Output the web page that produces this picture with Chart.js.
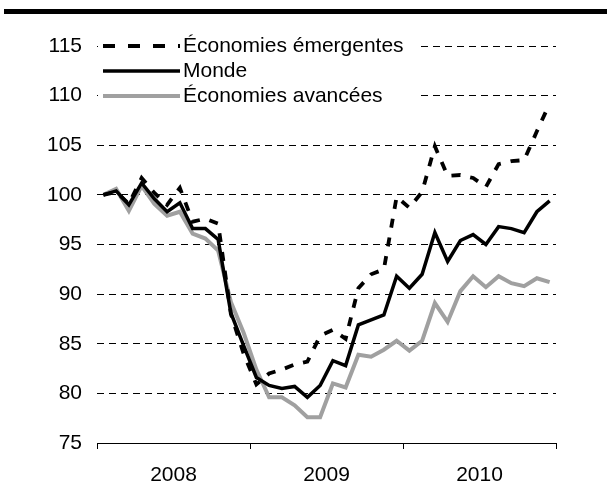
<!DOCTYPE html>
<html><head><meta charset="utf-8">
<script src="https://cdn.jsdelivr.net/npm/chart.js@4.4.0/dist/chart.umd.min.js"></script>
<style>
html,body{margin:0;padding:0;background:#fff;}
#wrap{position:relative;width:607px;height:501px;}
#topbar{position:absolute;left:4px;top:9px;width:603px;height:5px;background:#000;}
canvas{position:absolute;left:0;top:0;}
</style></head><body>
<div id="wrap"><canvas id="c" width="607" height="501"></canvas><div id="topbar"></div></div>
<script>
const years = ['2008', '2009', '2010'];
const monthNames = ['janv.', 'févr.', 'mars', 'avr.', 'mai', 'juin', 'juil.', 'août', 'sept.', 'oct.', 'nov.', 'déc.'];
const months = [];
years.forEach(y => monthNames.forEach(m => months.push(m + ' ' + y)));

const seriesNames = ['Économies émergentes', 'Monde', 'Économies avancées'];
const emergentes = [100, 100.3, 99.1, 101.7, 100.2, 99.0, 100.7, 97.3, 97.6, 97.1, 88.0, 84.0,
                    80.9, 82.0, 82.4, 82.9, 83.2, 85.8, 86.4, 85.5, 90.6, 92.0, 92.5, 99.8,
                    98.7, 100.3, 104.9, 101.9, 102.0, 101.7, 100.8, 103.1, 103.4, 103.5, 106.4, 109.2];
const monde = [100, 100.4, 99.0, 101.2, 99.6, 98.3, 99.2, 96.6, 96.6, 95.5, 88.1, 84.8,
               81.6, 80.8, 80.5, 80.7, 79.6, 80.8, 83.3, 82.8, 86.9, 87.4, 87.9, 91.8,
               90.6, 92.0, 96.2, 93.3, 95.4, 96.0, 95.0, 96.8, 96.6, 96.2, 98.3, 99.4];
const avancees = [100, 100.6, 98.4, 100.9, 99.1, 97.9, 98.3, 96.1, 95.6, 94.4, 89.2, 86.1,
                  82.4, 79.6, 79.6, 78.8, 77.6, 77.6, 81.0, 80.6, 83.9, 83.7, 84.4, 85.3,
                  84.3, 85.3, 89.1, 87.2, 90.3, 91.8, 90.7, 91.8, 91.1, 90.8, 91.6, 91.2];
const yTicks = [75, 80, 85, 90, 95, 100, 105, 110, 115];

const FONT = '"Liberation Sans", Arial, sans-serif';
const toXY = arr => arr.map((v, i) => ({x: i, y: v}));
const perYear = monthNames.length;
const boundaries = years.map((y, k) => k * perYear - 0.5).concat([years.length * perYear - 0.5]);
const centers = years.map((y, k) => k * perYear + (perYear - 1) / 2);
const isBoundary = v => boundaries.some(b => Math.abs(b - v) < 1e-6);

const legendPlugin = {
  id: 'legendBox',
  beforeDatasetsDraw(chart) {
    const ctx = chart.ctx, ca = chart.chartArea;
    ctx.save();
    ctx.fillStyle = '#fff';
    ctx.fillRect(ca.left + 1, 30, 320, 78);
    chart.data.datasets.forEach((ds, i) => {
      const y = 46 + i * 25;
      ctx.beginPath();
      ctx.setLineDash(i === 0 ? [12, 13] : []);
      ctx.lineWidth = ds.borderWidth;
      ctx.strokeStyle = ds.borderColor;
      ctx.lineCap = 'butt';
      ctx.moveTo(ca.left + 6, y);
      ctx.lineTo(ca.left + 83, y);
      ctx.stroke();
      ctx.setLineDash([]);
      ctx.fillStyle = '#000';
      ctx.font = '21px ' + FONT;
      ctx.textBaseline = 'middle';
      ctx.textAlign = 'left';
      ctx.fillText(ds.label, ca.left + 86, y);
    });
    ctx.restore();
  }
};

new Chart(document.getElementById('c'), {
  type: 'line',
  data: {
    labels: months,
    datasets: [
      {label: seriesNames[0], data: toXY(emergentes), borderColor: '#000', borderWidth: 3.8, borderDash: [9, 10], pointRadius: 0, tension: 0, fill: false},
      {label: seriesNames[1], data: toXY(monde), borderColor: '#000', borderWidth: 3.5, pointRadius: 0, tension: 0, fill: false},
      {label: seriesNames[2], data: toXY(avancees), borderColor: '#a0a0a0', borderWidth: 4, pointRadius: 0, tension: 0, fill: false}
    ]
  },
  options: {
    responsive: false,
    animation: false,
    layout: {padding: {left: 0, right: 51, top: 46, bottom: 0}},
    plugins: {legend: {display: false}, tooltip: {enabled: false}},
    scales: {
      x: {
        type: 'linear',
        min: boundaries[0],
        max: boundaries[boundaries.length - 1],
        afterBuildTicks: s => { s.ticks = boundaries.concat(centers).sort((a, b) => a - b).map(v => ({value: v})); },
        afterFit: s => { s.height = 58; },
        ticks: {
          autoSkip: false, maxRotation: 0, padding: 14, color: '#000',
          font: {family: FONT, size: 21},
          callback: v => { const k = centers.findIndex(c => Math.abs(c - v) < 1e-6); return k >= 0 ? years[k] : ''; }
        },
        grid: {
          drawOnChartArea: false, drawTicks: true, tickLength: 6, lineWidth: 1,
          color: c => (c.tick && isBoundary(c.tick.value)) ? '#000' : 'rgba(0,0,0,0)'
        },
        border: {display: true, color: '#000', width: 1}
      },
      y: {
        min: 75, max: 115,
        afterBuildTicks: s => { s.ticks = yTicks.map(v => ({value: v})); },
        afterFit: s => { s.width = 97; },
        ticks: {padding: 15, color: '#000', font: {family: FONT, size: 21}},
        grid: {drawTicks: false, lineWidth: 1, color: c => (c.tick && c.tick.value === 75) ? 'rgba(0,0,0,0)' : '#000'},
        border: {display: false, dash: [7, 5]}
      }
    }
  },
  plugins: [legendPlugin]
});
</script>
</body></html>
